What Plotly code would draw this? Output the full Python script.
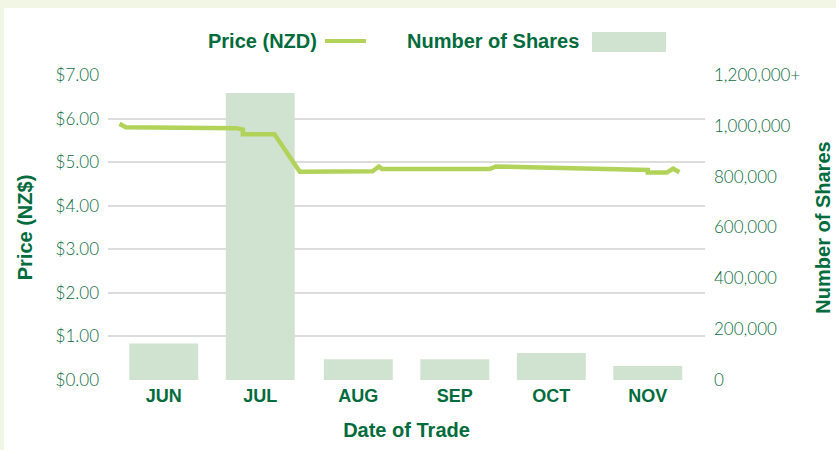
import pandas as pd
import plotly.graph_objects as go

# Monthly volume of shares traded
months = ['2023-06', '2023-07', '2023-08', '2023-09', '2023-10', '2023-11']
month_labels = ['JUN', 'JUL', 'AUG', 'SEP', 'OCT', 'NOV']
shares = [144000, 1129000, 82000, 82000, 106000, 55000]

# Daily closing price (NZD)
trade_dates = ['2023-06-02', '2023-06-04', '2023-07-09', '2023-07-11', '2023-07-11',
               '2023-07-21', '2023-07-29', '2023-08-21', '2023-08-23', '2023-08-24',
               '2023-09-27', '2023-09-29', '2023-11-16', '2023-11-16', '2023-11-22',
               '2023-11-24', '2023-11-26']
prices = [5.88, 5.80, 5.78, 5.75, 5.64,
          5.64, 4.78, 4.79, 4.90, 4.84,
          4.84, 4.90, 4.82, 4.76, 4.76,
          4.85, 4.77]

price_ticks = [0, 1, 2, 3, 4, 5, 6, 7]
share_ticks = [0, 200000, 400000, 600000, 800000, 1000000, 1200000]
share_tick_text = ['0', '200,000', '400,000', '600,000', '800,000', '1,000,000', '1,200,000+']

DARK_GREEN = '#006b3c'
TICK_GREEN = '#0c6a42'
LINE_GREEN = '#b2d35a'
BAR_GREEN = '#d0e3d0'
GRID = '#dcdcdc'
TITLE_FONT = 'Liberation Sans, Arial, sans-serif'
TICK_FONT = 'Lato, Open Sans, sans-serif'

# mid-month positions for bars and tick labels
starts = pd.to_datetime(months)
ends = starts + pd.offsets.MonthBegin(1)
mids = starts + (ends - starts) / 2
bar_width = 21.8 * 24 * 3600 * 1000  # ms

fig = go.Figure()

# bars sit on the base axis so the price line (overlay axis) is drawn on top
fig.add_trace(go.Bar(
    x=mids,
    y=shares,
    width=[bar_width] * len(shares),
    marker=dict(color=BAR_GREEN, line=dict(width=0)),
    name='Number of Shares',
    yaxis='y',
))

fig.add_trace(go.Scatter(
    x=pd.to_datetime(trade_dates),
    y=prices,
    mode='lines',
    line=dict(color=LINE_GREEN, width=4.5),
    name='Price (NZD)',
    yaxis='y2',
))

fig.update_layout(
    width=836,
    height=450,
    margin=dict(l=108, r=131, t=75, b=70),
    paper_bgcolor='#f2f6e4',
    plot_bgcolor='white',
    showlegend=False,
    xaxis=dict(
        type='date',
        automargin=False,
        range=['2023-05-29 09:00', '2023-12-04 02:00'],
        tickvals=mids,
        ticktext=month_labels,
        tickfont=dict(family='Liberation Sans Narrow, Arial Narrow, sans-serif', size=18,
                      color=DARK_GREEN, weight='bold'),
        ticklabelstandoff=3,
        showgrid=False,
        zeroline=False,
        showline=False,
        ticks='',
        title=dict(text='<b>Date of Trade</b>', standoff=17,
                   font=dict(family=TITLE_FONT, size=20, color=DARK_GREEN)),
    ),
    yaxis=dict(
        automargin=False,
        range=[0, 1200000],
        side='right',
        tickvals=share_ticks,
        ticktext=share_tick_text,
        tickfont=dict(family=TICK_FONT, size=17, color=TICK_GREEN, weight=300),
        ticklabelstandoff=8,
        showgrid=False,
        zeroline=False,
        ticks='',
        title=dict(text='<b>Number of Shares</b>', standoff=16,
                   font=dict(family=TITLE_FONT, size=20, color=DARK_GREEN)),
    ),
    yaxis2=dict(
        automargin=False,
        overlaying='y',
        side='left',
        range=[0, 7],
        tickvals=price_ticks,
        tickformat='$.2f',
        tickfont=dict(family=TICK_FONT, size=17, color=TICK_GREEN, weight=300),
        ticklabelstandoff=8,
        showgrid=True,
        gridcolor=GRID,
        gridwidth=2,
        zeroline=False,
        ticks='',
        title=dict(text='<b>Price (NZ$)</b>', standoff=17,
                   font=dict(family=TITLE_FONT, size=20, color=DARK_GREEN)),
    ),
)

# white card over the pale frame
fig.add_shape(type='rect', xref='paper', yref='paper',
              x0=(4 - 108) / 597, x1=(840 - 108) / 597,
              y0=(380 - 455) / 305, y1=(380 - 8) / 305,
              fillcolor='white', line=dict(width=0), layer='below')

# legend drawn with label before its swatch
legend_y = (380 - 41) / 305
fig.add_annotation(xref='paper', yref='paper', x=(319 - 108) / 597, y=legend_y,
                   xanchor='right', yanchor='middle', showarrow=False,
                   text='<b>Price (NZD)</b>',
                   font=dict(family=TITLE_FONT, size=20, color=DARK_GREEN))
fig.add_shape(type='line', xref='paper', yref='paper',
              x0=(325 - 108) / 597, x1=(366 - 108) / 597, y0=legend_y, y1=legend_y,
              line=dict(color=LINE_GREEN, width=4))
fig.add_annotation(xref='paper', yref='paper', x=(581 - 108) / 597, y=legend_y,
                   xanchor='right', yanchor='middle', showarrow=False,
                   text='<b>Number of Shares</b>',
                   font=dict(family=TITLE_FONT, size=20, color=DARK_GREEN))
fig.add_shape(type='rect', xref='paper', yref='paper',
              x0=(592 - 108) / 597, x1=(666 - 108) / 597,
              y0=(380 - 52) / 305, y1=(380 - 32) / 305,
              fillcolor=BAR_GREEN, line=dict(width=0))

# drop the browser's default body margin so the figure sits at the page corner
fig.write_html('out.html', config={'displayModeBar': False},
               post_script="document.body.style.margin='0';")
